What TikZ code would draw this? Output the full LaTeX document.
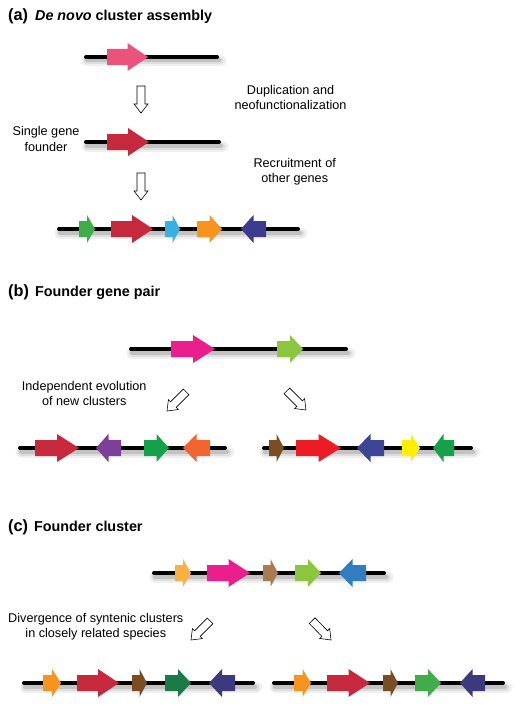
\documentclass[tikz,border=0pt]{standalone}
\usepackage{fontspec}
\setmainfont{Liberation Sans}
\usetikzlibrary{calc}
\definecolor{gpink}{HTML}{E9537E}
\definecolor{gred}{HTML}{C6283D}
\definecolor{ggreen}{HTML}{40AD48}
\definecolor{gsky}{HTML}{3AB0E2}
\definecolor{gorange}{HTML}{F7941E}
\definecolor{gnavy}{HTML}{3C3B8F}
\definecolor{gmagenta}{HTML}{EA1E8C}
\definecolor{glime}{HTML}{8CC63F}
\definecolor{gpurple}{HTML}{7D3F98}
\definecolor{gemerald}{HTML}{15A04A}
\definecolor{gtangerine}{HTML}{F26531}
\definecolor{gbrown}{HTML}{7A4E23}
\definecolor{gscarlet}{HTML}{EC1C24}
\definecolor{gindigo}{HTML}{3D4597}
\definecolor{gyellow}{HTML}{FFF000}
\definecolor{gapricot}{HTML}{FBB041}
\definecolor{gtan}{HTML}{A87B50}
\definecolor{gblue}{HTML}{2E7EC1}
\definecolor{gforest}{HTML}{1B7A45}
\definecolor{gdusk}{HTML}{3C3A7C}
\newcommand\chrom[3]{%
  \draw[shda] ({#1+3},{#3+4}) -- ({#2+2},{#3+4});
  \draw[shdb] ({#1+3},{#3+4}) -- ({#2+1},{#3+4});
  \draw[shdc] ({#1+3},{#3+3.5}) -- ({#2},{#3+3.5});
  \draw[chr] ({#1+2},#3) -- ({#2-2},#3);}
\newcommand\gene[4]{%
  \fill[#1] (#2,{#4-8}) -- ({(#2+#3)/2},{#4-8}) -- ({(#2+#3)/2},{#4-14}) -- (#3,#4)
    -- ({(#2+#3)/2},{#4+14}) -- ({(#2+#3)/2},{#4+8}) -- (#2,{#4+8}) -- cycle;}
\newcommand\holl[2]{%
  \draw[hol] let \p1=($(#2)-(#1)$), \n1={atan2(\y1,\x1)} in [shift={(#2)}, rotate=\n1]
    (-27,4) -- (-9,4) -- (-9,7) -- (0,0) -- (-9,-7) -- (-9,-4) -- (-27,-4) -- cycle;}
\begin{document}
\begin{tikzpicture}[x=1bp, y=-1bp]
                \tikzstyle{ttl} = [font=\fontsize{14.4}{17}\selectfont\bfseries, anchor=base west, inner sep=0pt]
                \tikzstyle{txt} = [font=\fontsize{12.7}{15.5}\selectfont, align=center, inner sep=0pt]
                \tikzstyle{chr} = [line width=4bp, line cap=round, black]
                \tikzstyle{shda} = [line width=11bp, line cap=round, black!6]
                \tikzstyle{shdb} = [line width=7bp, line cap=round, black!13]
                \tikzstyle{shdc} = [line width=4bp, line cap=round, black!24]
                \tikzstyle{hol} = [draw=black, fill=white, line width=0.6bp, line join=miter]
                    \useasboundingbox (0,0) rectangle (525,707);

                    \node[ttl] (ta) at (8,21) {{\fontsize{16.4}{17}\selectfont(a)}\hspace{7bp}\textit{De novo} cluster assembly};
                    \node[ttl] (tb) at (8,296.7) {{\fontsize{16.4}{17}\selectfont(b)}\hspace{6bp}Founder gene pair};
                    \node[ttl] (tc) at (8,531.7) {{\fontsize{16.4}{17}\selectfont(c)}\hspace{6bp}Founder cluster};

                    \node[txt] (d) at (290.5,97.5) {Duplication and\\neofunctionalization};
                    \node[txt] (s) at (46,139) {Single gene\\founder};
                    \node[txt] (r) at (294.7,171.7) {Recruitment of\\other genes};
                    \node[txt] (i) at (84.2,393.7) {Independent evolution\\of new clusters};
                    \node[txt] (v) at (95.8,626.9) {Divergence of syntenic clusters\\in closely related species};

                    \chrom{84}{219}{57}
                    \gene{gpink}{107}{148}{57}

                    \chrom{84}{221}{142}
                    \gene{gred}{107}{149}{142}

                    \chrom{57}{300}{229}
                    \gene{ggreen}{79}{95}{229}
                    \gene{gred}{111}{153}{229}
                    \gene{gsky}{165}{180}{229}
                    \gene{gorange}{197}{222}{229}
                    \gene{gnavy}{266}{241}{229}

                    \chrom{129}{348}{349}
                    \gene{gmagenta}{171}{215}{349}
                    \gene{glime}{277}{303}{349}

                    \chrom{18}{227}{448}
                    \gene{gred}{35}{79}{448}
                    \gene{gpurple}{121}{96}{448}
                    \gene{gemerald}{144}{169}{448}
                    \gene{gtangerine}{210}{183}{448}

                    \chrom{262}{473}{448}
                    \gene{gbrown}{269}{284}{448}
                    \gene{gscarlet}{296}{341}{448}
                    \gene{gindigo}{384}{357}{448}
                    \gene{gyellow}{402}{420}{448}
                    \gene{gemerald}{454}{433}{448}

                    \chrom{152}{386}{573}
                    \gene{gapricot}{175}{191}{573}
                    \gene{gmagenta}{207}{250}{573}
                    \gene{gtan}{263}{278}{573}
                    \gene{glime}{295}{321}{573}
                    \gene{gblue}{366}{339}{573}

                    \chrom{22}{255}{683}
                    \gene{gorange}{43}{61}{683}
                    \gene{gred}{77}{119}{683}
                    \gene{gbrown}{132}{147}{683}
                    \gene{gforest}{165}{191}{683}
                    \gene{gdusk}{235}{209}{683}

                    \chrom{272}{505}{683}
                    \gene{gorange}{294}{311}{683}
                    \gene{gred}{327}{370}{683}
                    \gene{gbrown}{383}{398}{683}
                    \gene{ggreen}{415}{441}{683}
                    \gene{gdusk}{485}{460}{683}

                    \coordinate (a1) at (141,86);
                    \coordinate (a2) at (141,113);
                    \coordinate (b1) at (141,173);
                    \coordinate (b2) at (141,200);
                    \coordinate (c1) at (186,392);
                    \coordinate (c2) at (167,411);
                    \coordinate (e1) at (287,391);
                    \coordinate (e2) at (306,410);
                    \coordinate (f1) at (210,621);
                    \coordinate (f2) at (191,640);
                    \coordinate (g1) at (311.5,620);
                    \coordinate (g2) at (331,640);

                    \holl{a1}{a2}
                    \holl{b1}{b2}
                    \holl{c1}{c2}
                    \holl{e1}{e2}
                    \holl{f1}{f2}
                    \holl{g1}{g2}

                \end{tikzpicture}
\end{document}
